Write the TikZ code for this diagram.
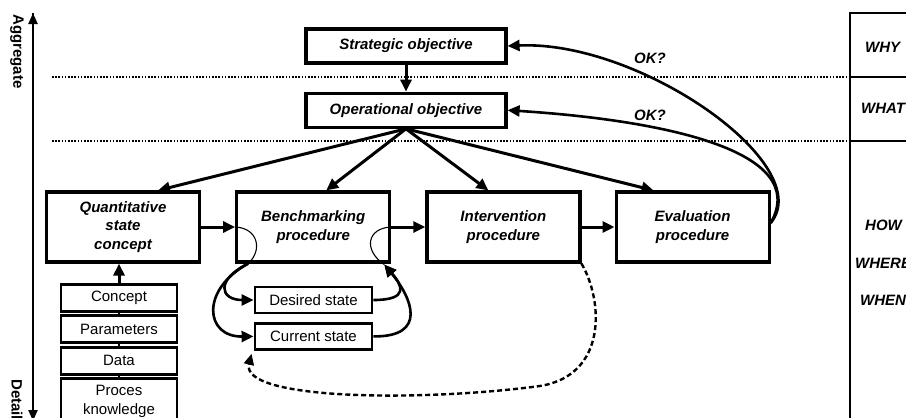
\documentclass[tikz,border=0pt]{standalone}
\usepackage{fontspec}
\setmainfont{Liberation Sans}
\usetikzlibrary{positioning,arrows.meta}

\begin{document}
\begin{tikzpicture}[x=1pt, y=-1pt,
	font=\fontsize{15}{18.5}\selectfont,
	box/.style={draw, line width=3.2pt, align=center, inner sep=0pt, font=\fontsize{15}{18.5}\selectfont\bfseries\itshape},
	objbox/.style={box, minimum width=200pt, minimum height=34pt},
	procbox/.style={box, minimum width=153pt, minimum height=70pt},
	infobox/.style={draw, line width=2.9pt, align=center, inner sep=0pt, minimum width=116pt, minimum height=27pt},
	arr/.style={-{Triangle[length=12pt,width=11pt]}, line width=3pt},
	loop/.style={-{Triangle[length=12pt,width=11pt]}, line width=2.6pt},
	level/.style={inner sep=0pt, font=\fontsize{15}{18}\selectfont\bfseries\itshape},
	dotline/.style={line width=2pt, dash pattern=on 1.6pt off 1.6pt}]

	\path[use as bounding box] (0,0) rectangle (906,418);
	\clip (0,0) rectangle (906,418);

	% axis and levels
	\coordinate(aggtop) at (33,13);
	\coordinate(detbot) at (33,421);
	\path (detbot) edge[-{Triangle[length=11pt,width=9pt]}, line width=2.2pt] (aggtop);
	\path (aggtop) edge[-{Triangle[length=11pt,width=9pt]}, line width=2.2pt] (detbot);
	\node(aggr)[level, font=\fontsize{15}{18}\selectfont\bfseries, rotate=-90, anchor=west] at (17,14) {Aggregate};
	\node(detail)[level, font=\fontsize{15}{18}\selectfont\bfseries, rotate=-90, anchor=west] at (17,379) {Detail};

	\draw[dotline] (52,77) -- (850,77);
	\draw[dotline] (52,141) -- (850,141);

	\draw[line width=2.2pt] (906,13) -- (850,13) -- (850,422);
	\draw[line width=2.2pt] (850,77) -- (906,77);
	\draw[line width=2.2pt] (850,141) -- (906,141);
	\node(why)[level, anchor=west] at (865,47) {WHY};
	\node(what)[level, anchor=west] at (861,108) {WHAT};
	\node(how)[level, anchor=west] at (865,225) {HOW};
	\node(where)[level, anchor=west] at (855,263) {WHERE};
	\node(when)[level, anchor=west] at (860,300) {WHEN};

	% objectives
	\node(strat)[objbox] at (406,46) {Strategic objective};
	\node(op)[objbox, below=27pt of strat] {Operational objective};

	% procedures
	\node(quant)[procbox] at (123,227) {Quantitative\\state\\concept};
	\node(bench)[procbox, right=34pt of quant] {Benchmarking\\procedure};
	\node(interv)[procbox, right=34pt of bench] {Intervention\\procedure};
	\node(eval)[procbox, right=33pt of interv] {Evaluation\\procedure};

	% inputs of the state concept
	\node(concept)[infobox] at (119,298) {Concept};
	\node(param)[infobox, below=1.4pt of concept] {Parameters};
	\node(data)[infobox, below=1.4pt of param] {Data};
	\node(proces)[infobox, below=1.4pt of data, minimum height=46pt] {Proces\\knowledge};

	% states
	\node(desired)[infobox, minimum width=117pt, minimum height=26pt] at (313.5,300) {Desired state};
	\node(current)[infobox, minimum width=117pt, minimum height=26pt, below=7.5pt of desired] {Current state};

	\path (strat) edge[arr] (op);
	\path (op.south) edge[arr] ([xshift=35pt]quant.north);
	\path (op.south) edge[arr] ([xshift=13pt]bench.north);
	\path (op.south) edge[arr] ([xshift=-15pt]interv.north);
	\path (op.south) edge[arr] ([xshift=-39pt]eval.north);

	\path (quant) edge[arr] (bench);
	\path (bench) edge[arr] (interv);
	\path (interv) edge[arr] (eval);

	\draw[line width=2pt] (concept) -- (param);
	\draw[line width=2pt] (param) -- (data);
	\draw[line width=2pt] (data) -- (proces);
	\path (concept.north) edge[arr] (concept.north |- quant.south);

	% benchmarking loops
	\coordinate(bl) at ([xshift=13pt]bench.south west);
	\coordinate(br) at ([xshift=-7pt,yshift=-1pt]bench.south east);
	\draw[line width=1.1pt] (bench.west) .. controls (258,228) and (263,250) .. (bl);
	\draw[line width=1.1pt] (bench.east) .. controls (367,228) and (363,250) .. (br);
	\draw[loop] (bl) .. controls (215,280) and (220,300) .. (desired.west);
	\draw[loop] (bl) .. controls (200,290) and (205,337) .. (current.west);
	\draw[loop] (desired.east) .. controls (410,300) and (402,285) .. (br);
	\draw[loop] (current.east) .. controls (428,337) and (412,298) .. (br);

	% feedback from intervention
	\coordinate(curin) at ([xshift=-2pt,yshift=-3pt]current.south west);
	\draw[-{Triangle[length=11pt,width=10pt]}, line width=2.4pt, dash pattern=on 5pt off 3pt]
		(interv.south east) .. controls (603,300) and (608,375) .. (540,386)
		.. controls (420,402) and (240,400) .. (curin);

	% evaluation feedback
	\coordinate(evout) at ([yshift=4pt]eval.east);
	\draw[loop] (evout) .. controls (818,165) and (640,40) .. (strat.east);
	\draw[loop] (evout) .. controls (812,150) and (660,120) .. (op.east);
	\node(ok1)[level] at (650,58) {OK?};
	\node(ok2)[level] at (650,115) {OK?};
\end{tikzpicture}
\end{document}
